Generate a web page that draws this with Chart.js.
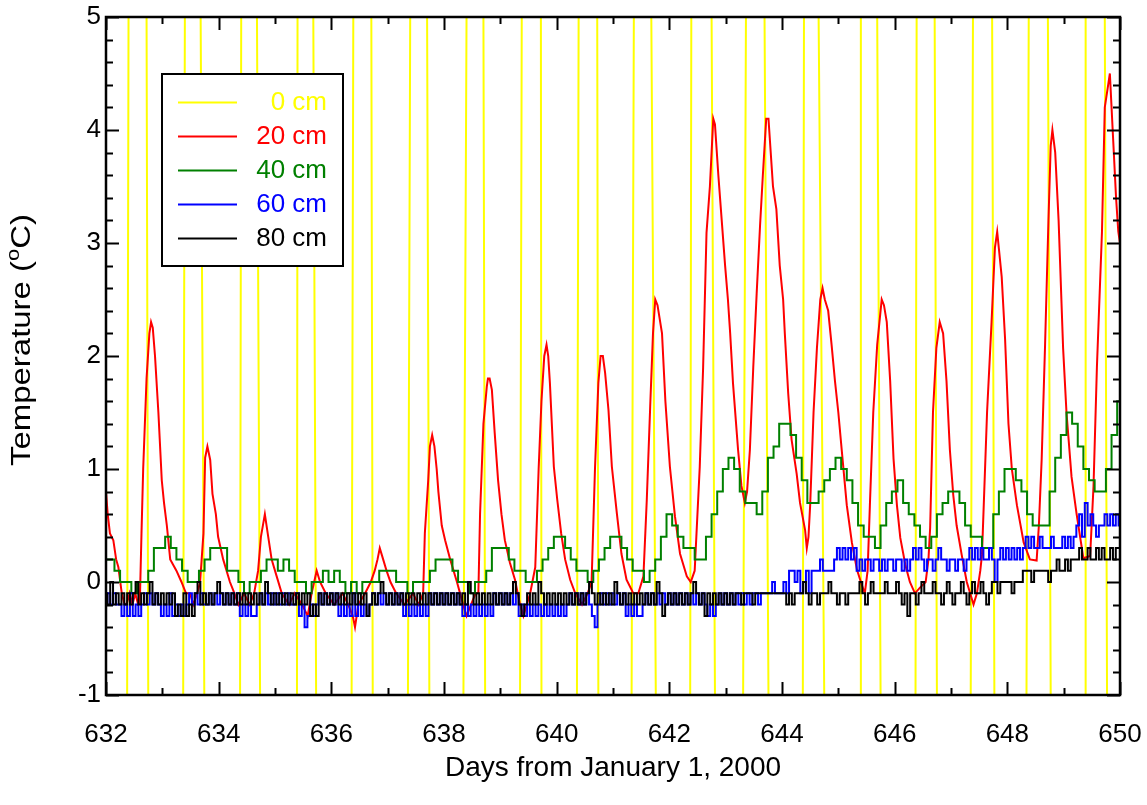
<!DOCTYPE html>
<html>
<head>
<meta charset="utf-8">
<script src="https://cdn.jsdelivr.net/npm/chart.js@4.4.0/dist/chart.umd.min.js"></script>
<style>
    html, body { margin: 0; padding: 0; background: #fff; }
    #wrap { width: 1147px; height: 805px; }
</style>
</head>
<body>
<div id="wrap"><canvas id="soilChart" width="1147" height="805"></canvas></div>
<script>
// soil temperature at five depths, days 632-650
const depthLabels = ['0 cm', '20 cm', '40 cm', '60 cm', '80 cm'];
const depthColors = ['#ffff00', '#ff0000', '#008000', '#0000ff', '#000000'];

const xTickLabels = [632, 634, 636, 638, 640, 642, 644, 646, 648, 650];
const yTickLabels = [-1, 0, 1, 2, 3, 4, 5];

// 0 cm swings far past the axis range, only the crossings show
const surfaceDays = [
    632.00, 632.375, 632.40, 632.55, 632.72, 632.75,
    633.05, 633.37, 633.40, 633.55, 633.68, 633.745,
    634.05, 634.38, 634.40, 634.55, 634.68, 634.735,
    635.05, 635.39, 635.40, 635.55, 635.68, 635.73,
    636.05, 636.36, 636.39, 636.55, 636.71, 636.735,
    637.05, 637.36, 637.40, 637.55, 637.70, 637.74,
    638.05, 638.345, 638.40, 638.55, 638.70, 638.73,
    639.05, 639.35, 639.38, 639.55, 639.72, 639.73,
    640.05, 640.36, 640.39, 640.55, 640.72, 640.74,
    641.05, 641.33, 641.37, 641.55, 641.68, 641.76,
    642.05, 642.37, 642.39, 642.55, 642.75, 642.81,
    643.05, 643.31, 643.36, 643.55, 643.69, 643.76,
    644.05, 644.37, 644.39, 644.55, 644.65, 644.75,
    645.05, 645.39, 645.40, 645.55, 645.69, 645.75,
    646.05, 646.37, 646.39, 646.55, 646.71, 646.75,
    647.05, 647.35, 647.39, 647.55, 647.73, 647.77,
    648.05, 648.34, 648.38, 648.55, 648.72, 648.77,
    649.05, 649.385, 649.39, 649.55, 649.73, 649.77,
    650.00
];
const surfaceTemps = [
    -8, -1, 5, 12, 5, -1,
    -8, -1, 5, 12, 5, -1,
    -8, -1, 5, 12, 5, -1,
    -8, -1, 5, 12, 5, -1,
    -8, -1, 5, 12, 5, -1,
    -8, -1, 5, 12, 5, -1,
    -8, -1, 5, 12, 5, -1,
    -8, -1, 5, 12, 5, -1,
    -8, -1, 5, 12, 5, -1,
    -8, -1, 5, 12, 5, -1,
    -8, -1, 5, 12, 5, -1,
    -8, -1, 5, 12, 5, -1,
    -8, -1, 5, 12, 5, -1,
    -8, -1, 5, 12, 5, -1,
    -8, -1, 5, 12, 5, -1,
    -8, -1, 5, 12, 5, -1,
    -8, -1, 5, 12, 5, -1,
    -8, -1, 5, 12, 5, -1,
    -8
];

const red20Days = [
    632.00, 632.03, 632.07, 632.13, 632.18, 632.22, 632.28, 632.33, 632.37, 632.42, 632.47, 632.52, 632.57, 632.60,
    632.63, 632.66, 632.72, 632.77, 632.80, 632.83, 632.87, 632.93, 632.99, 633.03, 633.08, 633.14, 633.25, 633.34,
    633.42, 633.49, 633.55, 633.62, 633.67, 633.73, 633.76, 633.80, 633.85, 633.89, 633.95, 633.99, 634.08, 634.20,
    634.28, 634.35, 634.45, 634.55, 634.63, 634.70, 634.75, 634.82, 634.88, 634.94, 635.03, 635.12, 635.25, 635.35,
    635.48, 635.58, 635.65, 635.74, 635.80, 635.90, 636.05, 636.20, 636.30, 636.38, 636.42, 636.48, 636.60, 636.70,
    636.77, 636.82, 636.86, 636.92, 636.98, 637.05, 637.15, 637.30, 637.45, 637.55, 637.63, 637.66, 637.72, 637.75,
    637.79, 637.83, 637.87, 637.90, 637.96, 638.02, 638.11, 638.23, 638.34, 638.40, 638.48, 638.56, 638.61, 638.64,
    638.70, 638.76, 638.78, 638.81, 638.85, 638.90, 638.96, 639.02, 639.08, 639.17, 639.26, 639.35, 639.41, 639.47,
    639.53, 639.62, 639.68, 639.73, 639.78, 639.82, 639.85, 639.88, 639.95, 640.01, 640.08, 640.15, 640.24, 640.33,
    640.45, 640.55, 640.62, 640.68, 640.74, 640.78, 640.82, 640.86, 640.92, 640.98, 641.07, 641.15, 641.24, 641.36,
    641.45, 641.54, 641.60, 641.66, 641.71, 641.75, 641.79, 641.87, 641.93, 642.01, 642.10, 642.19, 642.31, 642.38,
    642.45, 642.54, 642.60, 642.66, 642.72, 642.78, 642.81, 642.87, 642.93, 642.99, 643.04, 643.08, 643.13, 643.22,
    643.28, 643.34, 643.38, 643.43, 643.49, 643.55, 643.61, 643.66, 643.72, 643.76, 643.84, 643.90, 643.96, 644.02,
    644.05, 644.11, 644.17, 644.26, 644.32, 644.41, 644.44, 644.47, 644.50, 644.56, 644.62, 644.68, 644.72, 644.76,
    644.82, 644.88, 644.94, 645.00, 645.06, 645.15, 645.24, 645.33, 645.40, 645.47, 645.52, 645.56, 645.62, 645.69,
    645.77, 645.81, 645.86, 645.92, 645.98, 646.04, 646.10, 646.19, 646.27, 646.36, 646.45, 646.55, 646.60, 646.63,
    646.68, 646.74, 646.80, 646.86, 646.92, 646.98, 647.04, 647.10, 647.19, 647.28, 647.34, 647.40, 647.46, 647.52,
    647.55, 647.64, 647.72, 647.78, 647.82, 647.85, 647.90, 647.96, 648.02, 648.08, 648.17, 648.29, 648.40, 648.52,
    648.56, 648.61, 648.67, 648.73, 648.77, 648.80, 648.85, 648.91, 648.99, 649.05, 649.14, 649.23, 649.35, 649.47,
    649.53, 649.59, 649.68, 649.73, 649.79, 649.82, 649.88, 649.93, 649.97, 650.00
];
const red20Temps = [
    0.8, 0.6, 0.43, 0.37, 0.2, 0.13, -0.1, -0.2, -0.19, -0.1, -0.2, -0.1, -0.2, -0.19,
    0.43, 1.0, 1.8, 2.2, 2.3, 2.25, 2.0, 1.5, 0.9, 0.7, 0.5, 0.2, 0.1, 0.0,
    -0.1, -0.1, -0.2, -0.1, 0.0, 0.43, 1.1, 1.2, 1.08, 0.78, 0.6, 0.4, 0.2, 0.0,
    -0.1, -0.2, -0.1, -0.2, -0.1, 0.1, 0.4, 0.6, 0.4, 0.2, 0.05, -0.1, -0.2, -0.1,
    -0.2, -0.3, -0.1, 0.1, 0.0, -0.1, -0.2, -0.1, -0.2, -0.3, -0.4, -0.2, -0.1, 0.0,
    0.1, 0.2, 0.3, 0.2, 0.1, 0.0, -0.1, -0.2, -0.1, -0.2, -0.1, 0.43, 0.9, 1.2,
    1.3, 1.2, 1.0, 0.8, 0.5, 0.37, 0.2, 0.0, -0.2, -0.3, -0.2, -0.1, -0.1, 0.6,
    1.4, 1.73, 1.8, 1.8, 1.7, 1.32, 0.9, 0.6, 0.37, 0.17, 0.02, -0.2, -0.3, -0.2,
    -0.1, 0.13, 1.0, 1.6, 2.0, 2.1, 2.0, 1.76, 1.02, 0.73, 0.43, 0.2, 0.02, -0.1,
    -0.2, -0.1, 0.0, 1.0, 1.76, 2.0, 2.0, 1.85, 1.52, 1.02, 0.6, 0.25, 0.02, -0.1,
    -0.1, 0.05, 0.73, 1.55, 2.2, 2.5, 2.45, 2.2, 1.6, 1.02, 0.58, 0.25, 0.05, 0.0,
    0.1, 1.02, 1.9, 3.09, 3.5, 4.1, 4.05, 3.6, 3.2, 2.8, 2.5, 2.2, 1.76, 1.17,
    0.85, 0.7, 0.8, 1.17, 1.9, 2.55, 3.15, 3.6, 4.1, 4.1, 3.5, 3.3, 2.8, 2.5,
    2.2, 1.67, 1.26, 0.96, 0.7, 0.46, 0.3, 0.4, 0.68, 1.5, 2.07, 2.5, 2.6, 2.5,
    2.4, 2.1, 1.78, 1.5, 1.17, 0.68, 0.35, 0.11, 0.0, -0.1, 0.1, 0.68, 1.5, 2.1,
    2.5, 2.45, 2.3, 1.78, 1.09, 0.68, 0.39, 0.15, 0.0, -0.1, -0.05, 0.0, 0.2, 0.48,
    1.5, 2.07, 2.3, 2.2, 1.78, 1.17, 0.77, 0.5, 0.24, 0.0, -0.1, -0.2, -0.1, 0.1,
    0.24, 1.5, 2.3, 2.96, 3.1, 2.95, 2.7, 2.15, 1.4, 1.0, 0.68, 0.35, 0.2, 0.19,
    0.5, 1.09, 2.1, 3.2, 3.86, 4.0, 3.8, 3.2, 2.07, 1.5, 0.93, 0.6, 0.21, 0.23,
    0.85, 1.9, 3.1, 4.2, 4.4, 4.5, 3.9, 3.4, 3.1, 3.0
];

// 40 cm, every 0.1 day from day 632
const green40Start = 632;
const green40Step = 0.1;
const green40Temps = [
    0.2, 0.2, 0.1, 0.0, 0.0, -0.1, 0.0, 0.0, 0.1, 0.3,
    0.3, 0.4, 0.3, 0.2, 0.1, 0.0, 0.0, 0.1, 0.2, 0.3,
    0.3, 0.3, 0.1, 0.1, 0.0, -0.1, 0.0, 0.0, 0.1, 0.2,
    0.2, 0.1, 0.2, 0.1, 0.0, 0.0, -0.1, 0.0, 0.0, 0.1,
    0.0, 0.1, 0.0, -0.1, 0.0, -0.1, 0.0, 0.0, 0.0, 0.1,
    0.1, 0.1, 0.0, 0.0, -0.1, 0.0, 0.0, 0.0, 0.1, 0.2,
    0.2, 0.2, 0.1, 0.0, 0.0, -0.1, 0.0, 0.0, 0.1, 0.3,
    0.3, 0.3, 0.2, 0.1, 0.1, 0.0, 0.0, 0.1, 0.2, 0.3,
    0.4, 0.4, 0.3, 0.2, 0.1, 0.1, 0.0, 0.1, 0.2, 0.3,
    0.4, 0.4, 0.3, 0.2, 0.1, 0.1, 0.0, 0.1, 0.2, 0.4,
    0.6, 0.5, 0.4, 0.3, 0.3, 0.2, 0.2, 0.4, 0.6, 0.8,
    1.0, 1.1, 1.0, 0.8, 0.7, 0.7, 0.6, 0.8, 1.1, 1.2,
    1.4, 1.4, 1.3, 1.1, 0.9, 0.7, 0.7, 0.8, 0.9, 1.0,
    1.1, 1.0, 0.9, 0.7, 0.5, 0.4, 0.4, 0.3, 0.5, 0.7,
    0.8, 0.9, 0.7, 0.6, 0.5, 0.4, 0.3, 0.4, 0.6, 0.7,
    0.8, 0.8, 0.7, 0.5, 0.4, 0.4, 0.3, 0.3, 0.6, 0.8,
    1.0, 1.0, 0.9, 0.8, 0.6, 0.5, 0.5, 0.5, 0.8, 1.1,
    1.3, 1.5, 1.4, 1.2, 1.0, 0.9, 0.8, 0.8, 1.0, 1.3,
    1.6
];

// 60 cm and 80 cm, every 0.05 day from day 632
const deepStart = 632;
const deepStep = 0.05;
const blue60Temps = [
    -0.2, -0.1, -0.2, -0.1, -0.2, -0.2, -0.3, -0.2, -0.3, -0.1, -0.3, -0.2, -0.3, -0.2, -0.1, -0.2, -0.1, -0.2, -0.1, -0.2,
    -0.3, -0.2, -0.3, -0.1, -0.3, -0.2, -0.3, -0.2, -0.3, -0.2, -0.1, -0.2, -0.1, -0.2, -0.1, -0.2, -0.2, -0.1, -0.2, -0.1,
    -0.2, -0.1, -0.2, -0.1, -0.2, -0.1, -0.2, -0.1, -0.3, -0.2, -0.3, -0.2, -0.3, -0.3, -0.2, -0.1, -0.2, -0.1, -0.2, -0.1,
    -0.2, -0.1, -0.2, -0.1, -0.2, -0.1, -0.2, -0.2, -0.1, -0.3, -0.2, -0.4, -0.3, -0.2, -0.3, -0.2, -0.1, -0.2, -0.1, -0.2,
    -0.1, -0.2, -0.1, -0.3, -0.2, -0.3, -0.2, -0.3, -0.1, -0.3, -0.2, -0.3, -0.2, -0.3, -0.2, -0.1, -0.2, -0.1, -0.2, -0.1,
    -0.2, -0.1, -0.2, -0.1, -0.2, -0.1, -0.3, -0.2, -0.3, -0.2, -0.3, -0.2, -0.3, -0.2, -0.3, -0.1, -0.2, -0.1, -0.2, -0.1,
    -0.2, -0.1, -0.2, -0.1, -0.2, -0.1, -0.2, -0.3, -0.2, -0.3, -0.2, -0.3, -0.2, -0.3, -0.2, -0.3, -0.2, -0.3, -0.1, -0.2,
    -0.1, -0.2, -0.1, -0.2, -0.1, -0.2, -0.1, -0.3, -0.2, -0.3, -0.2, -0.3, -0.2, -0.3, -0.2, -0.3, -0.2, -0.3, -0.2, -0.3,
    -0.2, -0.3, -0.2, -0.3, -0.2, -0.1, -0.2, -0.1, -0.2, -0.1, -0.2, -0.1, -0.2, -0.3, -0.4, -0.2, -0.1, -0.2, -0.1, -0.2,
    -0.1, -0.2, -0.1, -0.2, -0.1, -0.3, -0.2, -0.3, -0.2, -0.3, -0.3, -0.2, -0.1, -0.2, -0.1, -0.2, -0.1, -0.2, -0.1, -0.2,
    -0.1, -0.2, -0.1, -0.2, -0.1, -0.2, -0.1, -0.2, -0.1, -0.2, -0.1, -0.2, -0.1, -0.2, -0.3, -0.2, -0.3, -0.2, -0.1, -0.2,
    -0.1, -0.2, -0.1, -0.2, -0.1, -0.2, -0.1, -0.2, -0.1, -0.2, -0.1, -0.1, -0.2, -0.1, -0.1, -0.1, -0.1, 0.0, -0.1, -0.1,
    -0.1, 0.0, -0.1, 0.1, 0.1, 0.0, 0.1, -0.1, 0.0, 0.1, -0.1, 0.1, 0.1, 0.1, 0.2, 0.1, 0.1, 0.1, 0.1, 0.2,
    0.3, 0.2, 0.3, 0.2, 0.3, 0.2, 0.3, 0.1, 0.2, 0.1, 0.2, 0.2, 0.1, 0.2, 0.2, 0.1, 0.2, 0.1, 0.2, 0.2,
    0.1, 0.2, 0.2, 0.1, 0.2, 0.1, 0.2, 0.3, 0.2, 0.3, 0.2, 0.1, 0.2, 0.2, 0.1, 0.2, 0.3, 0.2, 0.2, 0.1,
    0.2, 0.2, 0.1, 0.2, 0.2, 0.1, 0.2, 0.3, 0.2, 0.3, 0.2, 0.3, 0.2, 0.2, 0.3, 0.2, 0.0, 0.2, 0.3, 0.2,
    0.3, 0.2, 0.3, 0.2, 0.3, 0.2, 0.3, 0.4, 0.3, 0.4, 0.3, 0.3, 0.4, 0.3, 0.3, 0.3, 0.4, 0.3, 0.3, 0.3,
    0.4, 0.3, 0.4, 0.3, 0.4, 0.5, 0.6, 0.4, 0.7, 0.5, 0.6, 0.5, 0.4, 0.5, 0.5, 0.6, 0.5, 0.6, 0.5, 0.6,
    0.5
];
const black80Temps = [
    -0.1, -0.2, 0.0, -0.2, -0.1, -0.2, -0.1, -0.2, -0.1, -0.2, -0.1, 0.0, -0.2, -0.1, -0.2, -0.1, 0.0, -0.2, -0.1, -0.2,
    -0.1, -0.2, -0.1, -0.2, -0.1, -0.3, -0.2, -0.3, -0.1, -0.3, -0.2, -0.3, -0.1, 0.0, -0.2, -0.1, -0.2, -0.1, -0.2, -0.1,
    0.0, -0.1, -0.2, -0.1, -0.2, -0.1, -0.2, -0.1, -0.2, -0.1, -0.2, -0.1, -0.2, -0.1, -0.2, -0.1, -0.2, 0.0, -0.1, -0.2,
    -0.1, -0.2, -0.1, -0.2, -0.1, -0.2, -0.1, -0.2, -0.1, -0.2, -0.1, -0.2, -0.1, -0.3, -0.2, -0.3, -0.1, -0.2, -0.1, -0.2,
    -0.1, -0.2, -0.1, -0.2, -0.1, -0.2, -0.1, -0.2, -0.1, -0.2, -0.1, -0.2, -0.1, -0.3, -0.2, -0.1, -0.2, -0.1, 0.0, -0.1,
    -0.2, -0.1, -0.2, -0.1, -0.2, -0.1, -0.2, -0.1, -0.2, -0.1, -0.2, -0.1, -0.2, -0.1, -0.2, -0.1, -0.2, -0.1, -0.2, -0.1,
    -0.2, -0.1, -0.2, -0.1, -0.2, -0.1, -0.2, -0.1, -0.2, 0.0, -0.1, -0.2, -0.1, -0.2, -0.1, -0.2, -0.1, -0.2, -0.1, -0.2,
    -0.1, -0.2, -0.1, -0.2, -0.1, 0.0, -0.1, -0.2, -0.3, -0.2, -0.1, -0.2, -0.1, -0.2, 0.0, -0.1, -0.2, -0.1, -0.2, -0.1,
    -0.2, -0.1, -0.2, -0.1, -0.2, -0.1, -0.2, -0.1, -0.2, -0.1, -0.2, -0.1, 0.0, -0.1, -0.2, -0.1, -0.2, -0.1, -0.2, -0.1,
    -0.2, 0.0, -0.1, -0.2, -0.1, -0.2, -0.1, -0.2, -0.1, -0.2, -0.1, -0.2, -0.1, -0.2, -0.1, -0.2, 0.0, -0.1, -0.3, -0.2,
    -0.1, -0.2, -0.1, -0.2, -0.1, -0.2, -0.1, -0.2, -0.1, 0.0, -0.1, -0.2, -0.1, -0.3, -0.1, -0.2, -0.1, -0.2, -0.1, -0.2,
    -0.1, -0.2, -0.1, -0.2, -0.1, -0.1, -0.2, -0.1, -0.1, -0.1, -0.2, -0.1, -0.1, -0.1, -0.1, -0.1, -0.1, -0.1, -0.1, -0.1,
    -0.1, -0.1, -0.2, -0.1, -0.2, -0.1, -0.1, -0.1, 0.0, -0.1, -0.2, -0.1, -0.1, -0.2, -0.1, -0.1, -0.1, 0.0, -0.1, -0.1,
    -0.2, -0.1, -0.1, -0.2, -0.1, -0.1, -0.1, -0.1, 0.0, -0.1, -0.2, -0.1, 0.0, -0.1, -0.1, -0.1, -0.1, 0.0, -0.1, -0.1,
    -0.1, 0.0, -0.1, -0.2, -0.1, -0.3, -0.1, -0.1, -0.2, -0.1, 0.0, -0.1, -0.1, -0.1, 0.0, -0.1, -0.1, -0.2, -0.1, 0.0,
    -0.1, -0.2, -0.1, -0.1, 0.0, -0.1, -0.2, -0.1, 0.0, -0.1, -0.1, 0.0, -0.1, -0.2, -0.1, 0.0, 0.0, -0.1, 0.0, 0.0,
    0.0, 0.0, -0.1, 0.0, 0.0, 0.0, 0.1, 0.1, 0.1, 0.0, 0.1, 0.1, 0.1, 0.1, 0.1, 0.0, 0.1, 0.1, 0.2, 0.1,
    0.1, 0.2, 0.1, 0.2, 0.2, 0.2, 0.3, 0.2, 0.2, 0.3, 0.2, 0.2, 0.3, 0.2, 0.3, 0.2, 0.2, 0.3, 0.2, 0.3,
    0.3
];

const fontFamily = '"Liberation Sans", Arial, Helvetica, sans-serif';

function pairUp(days, temps) {
    return days.map((d, i) => ({ x: d, y: temps[i] }));
}

function onGrid(start, step, temps) {
    return temps.map((t, i) => ({ x: +(start + i * step).toFixed(3), y: t }));
}

function lineSet(idx, points, stepped) {
    return {
        label: depthLabels[idx],
        data: points,
        borderColor: depthColors[idx],
        backgroundColor: depthColors[idx],
        borderWidth: 2,
        pointRadius: 0,
        tension: 0,
        stepped: stepped || false,
        fill: false,
        clip: 0,
        order: 5 - idx
    };
}

// frame with inward major/minor ticks on all four sides
const frameTicks = {
    id: 'frameTicks',
    afterDatasetsDraw(chart) {
        const { ctx, chartArea: a, scales } = chart;
        const xs = scales.x, ys = scales.y;
        ctx.save();
        ctx.strokeStyle = '#000';
        ctx.lineWidth = 2;
        ctx.beginPath();
        for (let v = 632; v <= 650.001; v += 1) {
            const px = Math.round(xs.getPixelForValue(v)) + 0.5;
            const len = (Math.round(v) % 2 === 0) ? 13 : 7;
            ctx.moveTo(px, a.bottom); ctx.lineTo(px, a.bottom - len);
            ctx.moveTo(px, a.top); ctx.lineTo(px, a.top + len);
        }
        for (let i = 0; i <= 30; i++) {
            const v = -1 + i * 0.2;
            const py = Math.round(ys.getPixelForValue(v)) + 0.5;
            const len = (i % 5 === 0) ? 13 : 7;
            ctx.moveTo(a.left, py); ctx.lineTo(a.left + len, py);
            ctx.moveTo(a.right, py); ctx.lineTo(a.right - len, py);
        }
        ctx.stroke();
        ctx.lineWidth = 2.5;
        ctx.strokeRect(a.left, a.top, a.right - a.left, a.bottom - a.top);
        ctx.restore();
    }
};

// boxed legend inside the plot, coloured right-aligned labels
const legendBox = {
    id: 'legendBox',
    afterDraw(chart) {
        const ctx = chart.ctx;
        const sets = chart.data.datasets;
        ctx.save();
        ctx.fillStyle = '#fff';
        ctx.fillRect(162, 74, 181, 192);
        ctx.strokeStyle = '#000';
        ctx.lineWidth = 2;
        ctx.strokeRect(162, 74, 181, 192);
        ctx.font = '26px ' + fontFamily;
        ctx.textAlign = 'right';
        ctx.textBaseline = 'middle';
        sets.forEach((ds, i) => {
            const y = 102 + i * 34;
            ctx.strokeStyle = ds.borderColor;
            ctx.lineWidth = 2;
            ctx.beginPath();
            ctx.moveTo(178, y + 0.5);
            ctx.lineTo(237, y + 0.5);
            ctx.stroke();
            ctx.fillStyle = ds.borderColor;
            ctx.fillText(ds.label, 327, y + 1);
        });
        ctx.restore();
    }
};

// axis titles, y title has a superscript o
const axisTitles = {
    id: 'axisTitles',
    afterDraw(chart) {
        const ctx = chart.ctx;
        const a = chart.chartArea;
        ctx.save();
        ctx.fillStyle = '#000';
        ctx.font = '28px ' + fontFamily;
        ctx.textAlign = 'center';
        ctx.textBaseline = 'middle';
        ctx.fillText('Days from January 1, 2000', (a.left + a.right) / 2, 768);

        const big = '27px ' + fontFamily, small = '18px ' + fontFamily;
        const parts = [['Temperature (', big, 0], ['o', small, -9], ['C)', big, 0]];
        let total = 0;
        parts.forEach(p => { ctx.font = p[1]; p.push(ctx.measureText(p[0]).width); total += p[3]; });
        ctx.translate(23, 340);
        ctx.rotate(-Math.PI / 2);
        ctx.scale(252 / total, 1);
        ctx.textAlign = 'left';
        let x = -total / 2;
        parts.forEach(p => {
            ctx.font = p[1];
            ctx.fillText(p[0], x, p[2]);
            x += p[3];
        });
        ctx.restore();
    }
};

const ctx = document.getElementById('soilChart').getContext('2d');

new Chart(ctx, {
    type: 'line',
    data: {
        datasets: [
            lineSet(0, pairUp(surfaceDays, surfaceTemps)),
            lineSet(1, pairUp(red20Days, red20Temps)),
            lineSet(2, onGrid(green40Start, green40Step, green40Temps), 'middle'),
            lineSet(3, onGrid(deepStart, deepStep, blue60Temps), 'middle'),
            lineSet(4, onGrid(deepStart, deepStep, black80Temps), 'middle')
        ]
    },
    options: {
        responsive: false,
        animation: false,
        devicePixelRatio: 1,
        layout: { padding: { top: 17, right: 27, left: 0, bottom: 0 } },
        plugins: {
            legend: { display: false },
            tooltip: { enabled: false }
        },
        scales: {
            x: {
                type: 'linear',
                min: xTickLabels[0],
                max: xTickLabels[xTickLabels.length - 1],
                afterBuildTicks: s => { s.ticks = xTickLabels.map(v => ({ value: v })); },
                afterFit: s => { s.height = 110; s.paddingLeft = 0; s.paddingRight = 0; },
                grid: { display: false, drawTicks: false },
                border: { display: false },
                ticks: {
                    color: '#000',
                    font: { family: fontFamily, size: 26 },
                    padding: 24,
                    maxRotation: 0,
                    autoSkip: false
                }
            },
            y: {
                type: 'linear',
                min: yTickLabels[0],
                max: yTickLabels[yTickLabels.length - 1],
                afterBuildTicks: s => { s.ticks = yTickLabels.map(v => ({ value: v })); },
                afterFit: s => { s.width = 106; s.paddingTop = 0; s.paddingBottom = 0; },
                grid: { display: false, drawTicks: false },
                border: { display: false },
                ticks: {
                    color: '#000',
                    font: { family: fontFamily, size: 26 },
                    padding: 5
                }
            }
        }
    },
    plugins: [frameTicks, legendBox, axisTitles]
});
</script>
</body>
</html>
